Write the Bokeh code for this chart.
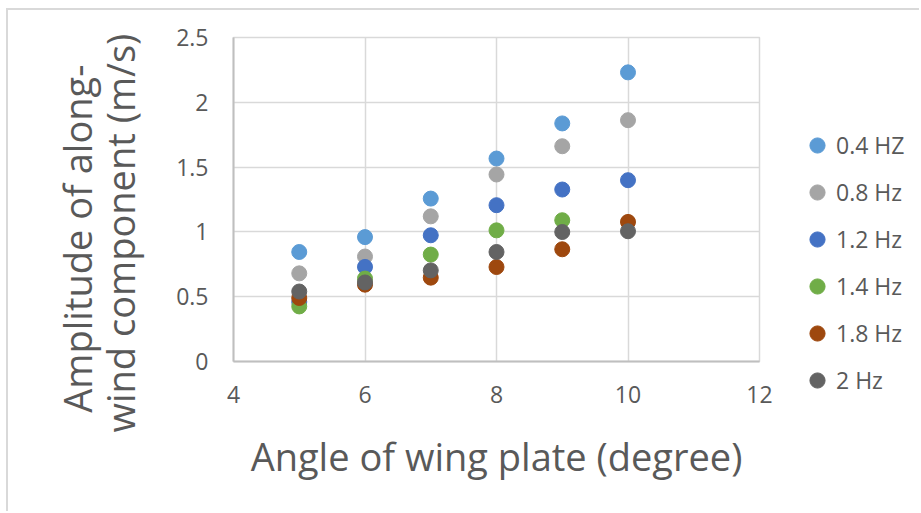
from bokeh.plotting import figure
from bokeh.layouts import row
from bokeh.models import Range1d, FixedTicker, Legend, LegendItem, Title
from bokeh.embed import file_html
from bokeh.resources import INLINE

# ---- data ----
series_names = ["0.4 HZ", "0.8 Hz", "1.2 Hz", "1.4 Hz", "1.8 Hz", "2 Hz"]
series_colors = ["#5B9BD5", "#A5A5A5", "#4472C4", "#70AD47", "#9E480E", "#636363"]

angle_04 = [5, 6, 7, 8, 9, 10]
amp_04 = [0.845, 0.96, 1.257, 1.566, 1.837, 2.231]
angle_08 = [5, 6, 7, 8, 9, 10]
amp_08 = [0.68, 0.81, 1.12, 1.443, 1.661, 1.862]
angle_12 = [5, 6, 7, 8, 9, 10]
amp_12 = [0.46, 0.73, 0.974, 1.206, 1.327, 1.399]
angle_14 = [5, 6, 7, 8, 9]
amp_14 = [0.425, 0.64, 0.825, 1.012, 1.09]
angle_18 = [5, 6, 7, 8, 9, 10]
amp_18 = [0.49, 0.593, 0.647, 0.729, 0.866, 1.077]
angle_20 = [5, 6, 7, 8, 9, 10]
amp_20 = [0.54, 0.61, 0.703, 0.845, 0.999, 1.005]

x_ticks = [4, 6, 8, 10, 12]
x_tick_labels = ["4", "6", "8", "10", "12"]
y_ticks = [0, 0.5, 1, 1.5, 2, 2.5]
y_tick_labels = ["0", "0.5", "1", "1.5", "2", "2.5"]

x_title = "Angle of wing plate (degree)"
y_title_lines = ["Amplitude of along-", "wind component (m/s)"]

FONT = "Open Sans"
TXT = "#595959"
BORDER = "2px solid #D9D9D9"

xs = [angle_04, angle_08, angle_12, angle_14, angle_18, angle_20]
ys = [amp_04, amp_08, amp_12, amp_14, amp_18, amp_20]

# ---------------- main chart ----------------
p = figure(width=772, height=503, output_backend="svg", toolbar_location=None,
           x_range=Range1d(4, 12), y_range=Range1d(0, 2.5),
           min_border_left=225, min_border_right=21, min_border_top=27, min_border_bottom=152)
p.margin = (8, 0, 0, 6)
p.styles = {"border-top": BORDER, "border-left": BORDER}

p.background_fill_color = "white"
p.border_fill_color = "white"
p.outline_line_color = "#D9D9D9"
p.outline_line_width = 1.5

for ax in (p.xaxis, p.yaxis):
    ax.major_tick_line_color = None
    ax.minor_tick_line_color = None
    ax.axis_line_color = "#BFBFBF"
    ax.axis_line_width = 2
    ax.major_label_text_font = FONT
    ax.major_label_text_font_size = "23px"
    ax.major_label_text_color = TXT
    ax.axis_label_text_font = FONT
    ax.axis_label_text_font_size = "38px"
    ax.axis_label_text_font_style = "normal"
    ax.axis_label_text_color = TXT

p.xaxis.ticker = FixedTicker(ticks=x_ticks)
p.yaxis.ticker = FixedTicker(ticks=y_ticks)
p.xaxis.major_label_overrides = {t: l for t, l in zip(x_ticks, x_tick_labels)}
p.yaxis.major_label_overrides = {t: l for t, l in zip(y_ticks, y_tick_labels)}
p.xaxis.major_label_standoff = 18
p.yaxis.major_label_standoff = 19
p.xaxis.axis_label = x_title
p.xaxis.axis_label_standoff = 24

# y title: one two-line block, lines start-aligned (first line nudged with nbsp)
y_title = "\u00a0\u00a0" + y_title_lines[0] + "\n" + y_title_lines[1]
t_y = Title(text=y_title, align="left", offset=-71, standoff=54,
            text_font=FONT, text_font_size="38px", text_font_style="normal",
            text_color=TXT, text_line_height=0.83)
p.add_layout(t_y, "left")

p.xgrid.grid_line_color = "#D9D9D9"
p.ygrid.grid_line_color = "#D9D9D9"
p.xgrid.grid_line_width = 1.5
p.ygrid.grid_line_width = 1.5

for col, xv, yv in zip(series_colors, xs, ys):
    p.scatter(xv, yv, size=15, fill_color=col, line_color=col)

# ---------------- legend panel ----------------
# the legend's renderers use the same data, on ranges that keep them out of view
pl = figure(width=141, height=503, output_backend="svg", toolbar_location=None,
            x_axis_type=None, y_axis_type=None,
            x_range=Range1d(100, 101), y_range=Range1d(100, 101),
            min_border_left=0, min_border_right=0, min_border_top=0, min_border_bottom=0)
pl.margin = (8, 0, 0, 0)
pl.styles = {"border-top": BORDER}
pl.outline_line_color = None
pl.xgrid.visible = False
pl.ygrid.visible = False
pl.background_fill_color = "white"
pl.border_fill_color = "white"

items = []
for name, col, xv, yv in zip(series_names, series_colors, xs, ys):
    r = pl.scatter(xv, yv, size=15, fill_color=col, line_color=col)
    items.append(LegendItem(label=name, renderers=[r]))

legend = Legend(items=items, location=(20, -38))
legend.glyph_width = 38
legend.glyph_height = 38
legend.label_height = 38
legend.spacing = 9
legend.padding = 0
legend.margin = 0
legend.label_standoff = 0
legend.label_text_font = FONT
legend.label_text_font_size = "23px"
legend.label_text_color = TXT
legend.border_line_color = None
legend.background_fill_alpha = 0
pl.add_layout(legend, "left")

layout = row(p, pl)
open("out.html", "w").write(file_html(layout, INLINE))
